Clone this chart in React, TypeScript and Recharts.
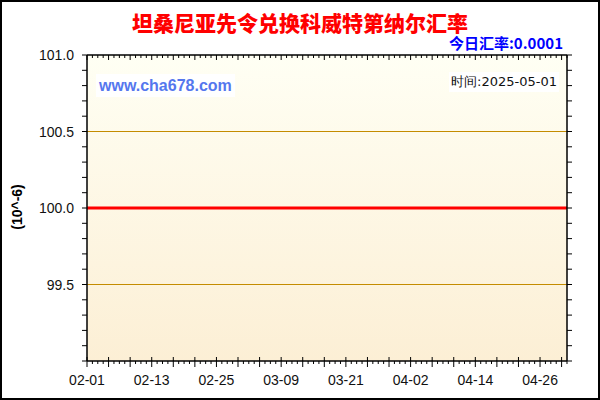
import { LineChart, Line, XAxis, YAxis, ReferenceLine, ReferenceArea } from "recharts";

// 2025-02-01 .. 2025-05-01, one point per day
const dates = [
  "02-01", "02-02", "02-03", "02-04", "02-05", "02-06", "02-07", "02-08", "02-09", "02-10",
  "02-11", "02-12", "02-13", "02-14", "02-15", "02-16", "02-17", "02-18", "02-19", "02-20",
  "02-21", "02-22", "02-23", "02-24", "02-25", "02-26", "02-27", "02-28",
  "03-01", "03-02", "03-03", "03-04", "03-05", "03-06", "03-07", "03-08", "03-09", "03-10",
  "03-11", "03-12", "03-13", "03-14", "03-15", "03-16", "03-17", "03-18", "03-19", "03-20",
  "03-21", "03-22", "03-23", "03-24", "03-25", "03-26", "03-27", "03-28", "03-29", "03-30", "03-31",
  "04-01", "04-02", "04-03", "04-04", "04-05", "04-06", "04-07", "04-08", "04-09", "04-10",
  "04-11", "04-12", "04-13", "04-14", "04-15", "04-16", "04-17", "04-18", "04-19", "04-20",
  "04-21", "04-22", "04-23", "04-24", "04-25", "04-26", "04-27", "04-28", "04-29", "04-30",
  "05-01",
];

// rate in units of 10^-6 (0.0001 = 100)
const rates = [
  100, 100, 100, 100, 100, 100, 100, 100, 100, 100,
  100, 100, 100, 100, 100, 100, 100, 100, 100, 100,
  100, 100, 100, 100, 100, 100, 100, 100,
  100, 100, 100, 100, 100, 100, 100, 100, 100, 100,
  100, 100, 100, 100, 100, 100, 100, 100, 100, 100,
  100, 100, 100, 100, 100, 100, 100, 100, 100, 100, 100,
  100, 100, 100, 100, 100, 100, 100, 100, 100, 100,
  100, 100, 100, 100, 100, 100, 100, 100, 100, 100,
  100, 100, 100, 100, 100, 100, 100, 100, 100, 100,
  100,
];

const yTicks = [
  99.0, 99.1, 99.2, 99.3, 99.4, 99.5, 99.6, 99.7, 99.8, 99.9,
  100.0, 100.1, 100.2, 100.3, 100.4, 100.5, 100.6, 100.7, 100.8, 100.9, 101.0,
];
const yLabels = [99.5, 100.0, 100.5, 101.0];
const gridValues = [99.5, 100.5];

const title = "坦桑尼亚先令兑换科威特第纳尔汇率";
const todayRate = "今日汇率:0.0001";
const dateText = "时间:2025-05-01";
const unitText = "(10^-6)";
const site = "www.cha678.com";

const data = dates.map((d, i) => ({ date: d, rate: rates[i] }));

const FONT = "'Liberation Sans', Arial, sans-serif";
const CJK = "'Noto Sans CJK SC', 'Liberation Sans', sans-serif";

function BottomTick(props: any) {
  const { x, y, payload, index } = props;
  const i = index ?? payload.index;
  const major = i % 4 === 0;
  return (
    <g>
      <line x1={x} x2={x} y1={major ? y - 4 : y} y2={major ? y + 6 : y + 3} stroke="#000" />
      {i % 12 === 0 && (
        <text x={x} y={y + 24} textAnchor="middle" fontSize={14} fontFamily={FONT} fill="#111">
          {payload.value}
        </text>
      )}
    </g>
  );
}

function TopTick(props: any) {
  const { x, y, index, payload } = props;
  const i = index ?? payload.index;
  const major = i % 4 === 0;
  return <line x1={x} x2={x} y1={y} y2={y + (major ? 5 : 3)} stroke="#000" />;
}

function LeftTick(props: any) {
  const { x, y, payload } = props;
  const v = payload.value;
  const show = yLabels.some((l) => Math.abs(l - v) < 1e-6);
  return (
    <g>
      <line x1={x - 5} x2={x} y1={y} y2={y} stroke="#000" />
      {show && (
        <text x={x - 13} y={y + 5} textAnchor="end" fontSize={14} fontFamily={FONT} fill="#111">
          {v.toFixed(1)}
        </text>
      )}
    </g>
  );
}

function RightTick(props: any) {
  const { x, y } = props;
  return <line x1={x} x2={x + 5} y1={y} y2={y} stroke="#000" />;
}

export default function App() {
  return (
    <div
      style={{
        position: "absolute",
        left: 0,
        top: 0,
        width: 600,
        height: 400,
        background: "#fff",
        overflow: "hidden",
      }}
    >
      <LineChart width={600} height={400} data={data} margin={{ top: 54, right: 32, bottom: 9, left: 27 }}>
        <defs>
          <linearGradient id="plotBg" x1="0" y1="0" x2="0" y2="1">
            <stop offset="0%" stopColor="#fffff4" />
            <stop offset="100%" stopColor="#fcefd5" />
          </linearGradient>
        </defs>
        <XAxis
          dataKey="date"
          height={30}
          interval={0}
          tickSize={0}
          tickMargin={0}
          tick={(p: any) => <BottomTick {...p} />}
          axisLine={{ stroke: "#000", strokeWidth: 1.5 }}
          tickLine={false}
        />
        <XAxis
          xAxisId="top"
          orientation="top"
          dataKey="date"
          height={1}
          interval={0}
          tickSize={0}
          tickMargin={0}
          tick={(p: any) => <TopTick {...p} />}
          axisLine={{ stroke: "#000", strokeWidth: 1.5 }}
          tickLine={false}
        />
        <YAxis
          width={60}
          type="number"
          domain={[99, 101]}
          ticks={yTicks}
          interval={0}
          tickSize={0}
          tickMargin={0}
          tick={(p: any) => <LeftTick {...p} />}
          axisLine={{ stroke: "#000", strokeWidth: 1.5 }}
          tickLine={false}
          allowDataOverflow
        />
        <YAxis
          yAxisId="right"
          orientation="right"
          width={1}
          type="number"
          domain={[99, 101]}
          ticks={yTicks}
          interval={0}
          tickSize={0}
          tickMargin={0}
          tick={(p: any) => <RightTick {...p} />}
          axisLine={{ stroke: "#000", strokeWidth: 1.5 }}
          tickLine={false}
          allowDataOverflow
        />
        <ReferenceArea y1={99} y2={101} fill="url(#plotBg)" fillOpacity={1} stroke="none" ifOverflow="visible" />
        {gridValues.map((v) => (
          <ReferenceLine key={v} y={v} stroke="#c48c00" strokeWidth={1} shapeRendering="crispEdges" />
        ))}
        <Line
          xAxisId="top"
          yAxisId="right"
          dataKey="rate"
          stroke="none"
          dot={false}
          activeDot={false}
          isAnimationActive={false}
        />
        <Line
          type="linear"
          dataKey="rate"
          stroke="#ff0000"
          strokeWidth={3}
          dot={false}
          activeDot={false}
          isAnimationActive={false}
        />
      </LineChart>

      <div
        style={{
          position: "absolute",
          left: 0,
          top: 8,
          width: 600,
          textAlign: "center",
          fontFamily: CJK,
          fontWeight: 900,
          fontSize: 21,
          lineHeight: "28px",
          color: "#ff0000",
        }}
      >
        {title}
      </div>
      <div
        style={{
          position: "absolute",
          right: 37,
          top: 33,
          fontFamily: CJK,
          fontWeight: 700,
          fontSize: 15,
          lineHeight: "20px",
          color: "#0000ff",
          whiteSpace: "nowrap",
        }}
      >
        {todayRate}
      </div>
      <div
        style={{
          position: "absolute",
          left: 96,
          top: 74,
          padding: "1px 3px",
          background: "#fff",
          fontFamily: FONT,
          fontWeight: 700,
          fontSize: 16,
          lineHeight: "21px",
          color: "#5577ee",
          whiteSpace: "nowrap",
        }}
      >
        {site}
      </div>
      <div
        style={{
          position: "absolute",
          right: 41,
          top: 72,
          padding: "1px 2px",
          background: "#fff",
          fontFamily: "'DejaVu Sans', sans-serif",
          fontSize: 13,
          lineHeight: "18px",
          color: "#111",
          whiteSpace: "nowrap",
        }}
      >
        {dateText}
      </div>
      <div
        style={{
          position: "absolute",
          left: 17,
          top: 207,
          transform: "translate(-50%, -50%) rotate(-90deg)",
          fontFamily: FONT,
          fontWeight: 700,
          fontSize: 14,
          color: "#000",
          whiteSpace: "nowrap",
        }}
      >
        {unitText}
      </div>
      <div
        style={{
          position: "absolute",
          left: 0,
          top: 0,
          width: 600,
          height: 400,
          boxSizing: "border-box",
          border: "2px solid #000",
          pointerEvents: "none",
        }}
      />
    </div>
  );
}
